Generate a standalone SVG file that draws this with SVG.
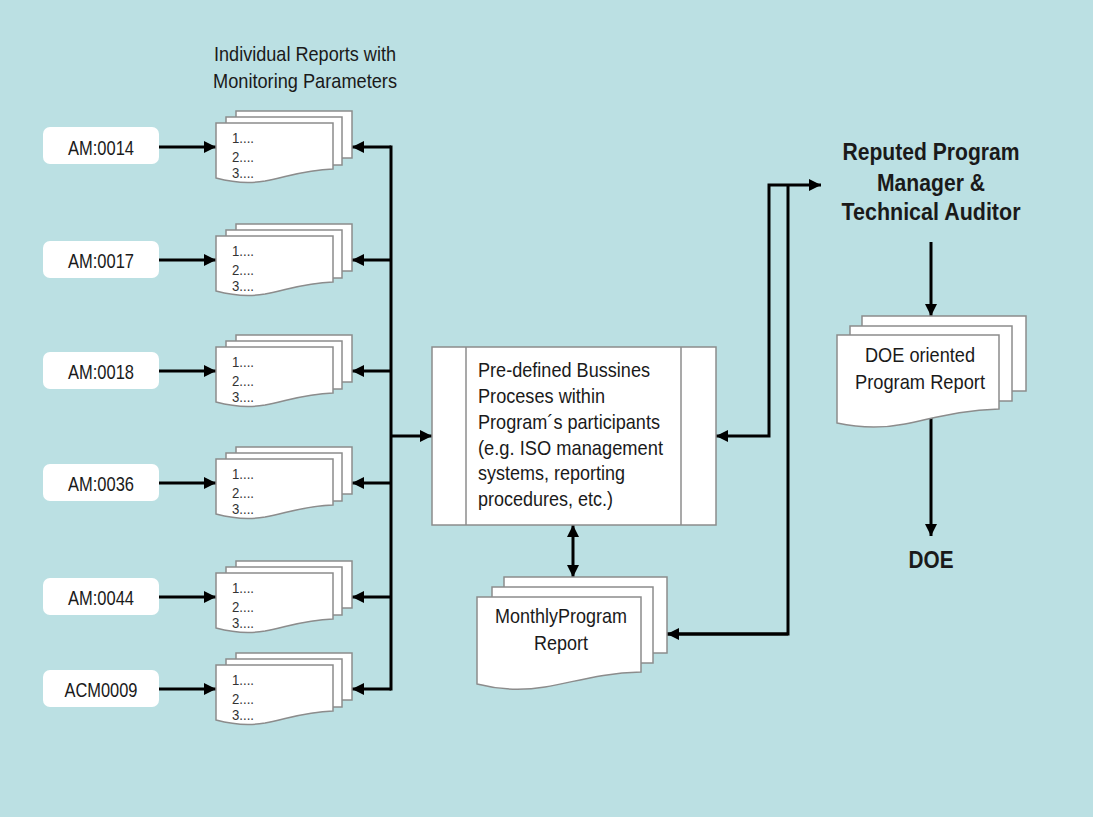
<svg xmlns="http://www.w3.org/2000/svg" xmlns:xlink="http://www.w3.org/1999/xlink" width="1093" height="817" viewBox="0 0 1093 817">
<style>
.t{font-family:"Liberation Sans",Arial,sans-serif;fill:#1a1a1a;}
.lbl{font-size:21px;text-anchor:middle;}
.num{font-size:14px;fill:#333;}
.bd{font-weight:bold;font-size:23px;text-anchor:middle;}
.pg{fill:#fff;stroke:#8c8c8c;stroke-width:1.5;}
.lb{fill:#fff;stroke:none;}
.cn{fill:none;stroke:#000;stroke-width:3;}
</style>
<defs>
<marker id="ah" viewBox="0 0 12 12" refX="12" refY="6" markerWidth="12" markerHeight="12" markerUnits="userSpaceOnUse" orient="auto-start-reverse">
<path d="M0,0 L12,6 L0,12 Z" fill="#000"/>
</marker>
<g id="stack">
<rect class="pg" x="20" y="-36" width="116" height="47"/>
<rect class="pg" x="10" y="-30" width="116" height="48"/>
<path class="pg" d="M0,-24 H117 V22 C89,23 74,29 49,34 C32,37 15,35 0,31 Z"/>
<text class="t num" x="16" y="-4" textLength="22" lengthAdjust="spacingAndGlyphs">1....</text>
<text class="t num" x="16" y="15" textLength="22" lengthAdjust="spacingAndGlyphs">2....</text>
<text class="t num" x="16" y="31" textLength="22" lengthAdjust="spacingAndGlyphs">3....</text>
</g>
</defs>
<rect x="0" y="0" width="1093" height="817" fill="#bbe0e3"/>

<g id="title">
<text class="t lbl" x="305" y="61" textLength="182" lengthAdjust="spacingAndGlyphs">Individual Reports with</text>
<text class="t lbl" x="305" y="88" textLength="184" lengthAdjust="spacingAndGlyphs">Monitoring Parameters</text>
</g>

<g id="connectors">
<path class="cn" d="M159,147 H216" marker-end="url(#ah)"/>
<path class="cn" d="M159,260 H216" marker-end="url(#ah)"/>
<path class="cn" d="M159,371 H216" marker-end="url(#ah)"/>
<path class="cn" d="M159,483 H216" marker-end="url(#ah)"/>
<path class="cn" d="M159,597 H216" marker-end="url(#ah)"/>
<path class="cn" d="M159,689 H216" marker-end="url(#ah)"/>
<path class="cn" d="M391,145.5 V690.5"/>
<path class="cn" d="M391,147 H352" marker-end="url(#ah)"/>
<path class="cn" d="M391,260 H352" marker-end="url(#ah)"/>
<path class="cn" d="M391,371 H352" marker-end="url(#ah)"/>
<path class="cn" d="M391,483 H352" marker-end="url(#ah)"/>
<path class="cn" d="M391,597 H352" marker-end="url(#ah)"/>
<path class="cn" d="M391,689 H352" marker-end="url(#ah)"/>
<path class="cn" d="M391,436 H432" marker-end="url(#ah)"/>
<path class="cn" d="M716,436 H769 V185 H821" marker-start="url(#ah)" marker-end="url(#ah)"/>
<path class="cn" d="M667,634 H788 V185"/>
<path class="cn" d="M788,634 H667" marker-end="url(#ah)"/>
<path class="cn" d="M573,525 V577" marker-start="url(#ah)" marker-end="url(#ah)"/>
<path class="cn" d="M931,242 V316" marker-end="url(#ah)"/>
<path class="cn" d="M931,418 V536" marker-end="url(#ah)"/>
</g>

<g id="am0014"><rect class="lb" x="43" y="127" width="116" height="37" rx="7"/><text class="t lbl" x="101" y="155" textLength="66" lengthAdjust="spacingAndGlyphs">AM:0014</text></g>
<g id="am0017"><rect class="lb" x="43" y="241" width="116" height="37" rx="7"/><text class="t lbl" x="101" y="268" textLength="66" lengthAdjust="spacingAndGlyphs">AM:0017</text></g>
<g id="am0018"><rect class="lb" x="43" y="352" width="116" height="37" rx="7"/><text class="t lbl" x="101" y="379" textLength="66" lengthAdjust="spacingAndGlyphs">AM:0018</text></g>
<g id="am0036"><rect class="lb" x="43" y="464" width="116" height="37" rx="7"/><text class="t lbl" x="101" y="491" textLength="66" lengthAdjust="spacingAndGlyphs">AM:0036</text></g>
<g id="am0044"><rect class="lb" x="43" y="578" width="116" height="37" rx="7"/><text class="t lbl" x="101" y="605" textLength="66" lengthAdjust="spacingAndGlyphs">AM:0044</text></g>
<g id="acm0009"><rect class="lb" x="43" y="670" width="116" height="37" rx="7"/><text class="t lbl" x="101" y="697" textLength="73" lengthAdjust="spacingAndGlyphs">ACM0009</text></g>

<g id="report1"><use xlink:href="#stack" x="216" y="147"/></g>
<g id="report2"><use xlink:href="#stack" x="216" y="260"/></g>
<g id="report3"><use xlink:href="#stack" x="216" y="371"/></g>
<g id="report4"><use xlink:href="#stack" x="216" y="483"/></g>
<g id="report5"><use xlink:href="#stack" x="216" y="597"/></g>
<g id="report6"><use xlink:href="#stack" x="216" y="689"/></g>

<g id="process">
<rect class="pg" x="432" y="347" width="284" height="178"/>
<line class="pg" x1="466" y1="347" x2="466" y2="525"/>
<line class="pg" x1="681" y1="347" x2="681" y2="525"/>
<text class="t" font-size="21" x="478" y="377" textLength="172" lengthAdjust="spacingAndGlyphs">Pre-defined Bussines</text>
<text class="t" font-size="21" x="478" y="403" textLength="127" lengthAdjust="spacingAndGlyphs">Proceses within</text>
<text class="t" font-size="21" x="478" y="429" textLength="182" lengthAdjust="spacingAndGlyphs">Program´s participants</text>
<text class="t" font-size="21" x="478" y="455" textLength="185" lengthAdjust="spacingAndGlyphs">(e.g. ISO management</text>
<text class="t" font-size="21" x="478" y="480" textLength="147" lengthAdjust="spacingAndGlyphs">systems, reporting</text>
<text class="t" font-size="21" x="478" y="506" textLength="135" lengthAdjust="spacingAndGlyphs">procedures, etc.)</text>
</g>

<g id="monthly">
<rect class="pg" x="504" y="577" width="163" height="76"/>
<rect class="pg" x="492" y="587" width="161" height="76"/>
<path class="pg" d="M477,597 H641 V672 C600,673 575,682 545,687 C520,691 500,690 477,684 Z"/>
<text class="t lbl" x="561" y="623" textLength="132" lengthAdjust="spacingAndGlyphs">MonthlyProgram</text>
<text class="t lbl" x="561" y="650" textLength="54" lengthAdjust="spacingAndGlyphs">Report</text>
</g>

<g id="auditor">
<text class="t bd" x="931" y="160" textLength="177" lengthAdjust="spacingAndGlyphs">Reputed Program</text>
<text class="t bd" x="931" y="191" textLength="108" lengthAdjust="spacingAndGlyphs">Manager &amp;</text>
<text class="t bd" x="931" y="220" textLength="179" lengthAdjust="spacingAndGlyphs">Technical Auditor</text>
</g>

<g id="doereport">
<rect class="pg" x="862" y="316" width="164" height="75"/>
<rect class="pg" x="850" y="326" width="162" height="75"/>
<path class="pg" d="M837,335 H999 V409 C960,410 935,418 905,424 C880,429 860,428 837,423 Z"/>
<text class="t lbl" x="920" y="362" textLength="110" lengthAdjust="spacingAndGlyphs">DOE oriented</text>
<text class="t lbl" x="920" y="389" textLength="130" lengthAdjust="spacingAndGlyphs">Program Report</text>
</g>

<g id="doe">
<text class="t bd" x="931" y="568" textLength="45" lengthAdjust="spacingAndGlyphs">DOE</text>
</g>
</svg>
